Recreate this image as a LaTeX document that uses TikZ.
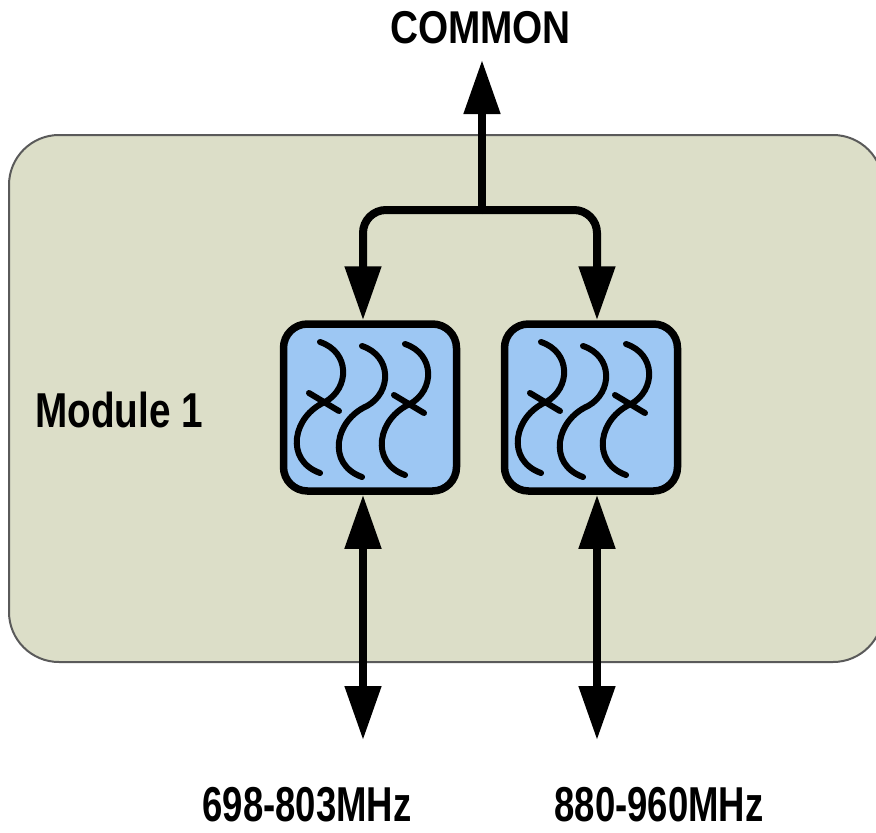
\documentclass[tikz,border=0pt]{standalone}
\usepackage{fontspec}
\setmainfont{Liberation Sans}
\usetikzlibrary{arrows.meta}
\definecolor{modfill}{RGB}{220,222,200}
\definecolor{modline}{RGB}{90,90,90}
\definecolor{filtfill}{RGB}{157,199,243}
\begin{document}
\begin{tikzpicture}[x=1pt,y=-1pt,
  modbox/.style={draw=modline, line width=2pt, fill=modfill, rounded corners=50pt},
  filterbox/.style={draw=black, line width=7.5pt, fill=filtfill, rounded corners=24pt,
    minimum width=173pt, minimum height=167pt, inner sep=0pt},
  bigtip/.tip={Triangle[width=35pt,length=54pt]},
  conn/.style={line width=8pt, draw=black},
  resline/.style={line width=6pt, line cap=round, draw=black},
  txt/.style={inner sep=0pt, font=\bfseries},
  scurve/.pic={
    \draw[resline] (0,0) .. controls (30,10) and (30,46) .. (5,60)
      .. controls (-27,74) and (-36,118) .. (0,131);},
  crossbar/.pic={\draw[resline] (-11,51) -- (19,69);}
]
\useasboundingbox (0,0) rectangle (876,833);
% module
\draw[modbox] (9,135) rectangle (883,662);
\node[txt, anchor=base west] (mod) at (35,427)
  {\fontsize{49}{49}\selectfont\scalebox{0.79}[1]{Module 1}};
% filters
\node[filterbox] (f1) at (370,407.5) {};
\node[filterbox] (f2) at (591,407.5) {};
\foreach \dx/\f in {0/f1,221/f2}{
  \pic at (320+\dx,342) {scurve};
  \pic at (320+\dx,342) {crossbar};
  \pic at (362+\dx,346) {scurve};
  \pic at (405+\dx,344) {scurve};
  \pic at (405+\dx,344) {crossbar};
}
% coordinates of connector columns
\coordinate (j) at (482,210);
\coordinate (c1) at (363,0);
\coordinate (c2) at (597,0);
\coordinate (top) at (482,60);
\coordinate (b1) at (363,740);
\coordinate (b2) at (597,740);
% common
\node[txt, anchor=base] (common) at (480.5,43)
  {\fontsize{46}{46}\selectfont\scalebox{0.843}[1]{COMMON}};
\draw[conn, -bigtip] (j) -- (top);
\draw[conn, rounded corners=23pt, -bigtip] (j) -| (f1.north -| c1);
\draw[conn, rounded corners=23pt, -bigtip] (j) -| (f2.north -| c2);
% outputs
\draw[conn, bigtip-bigtip] (f1.south -| c1) -- (b1);
\draw[conn, bigtip-bigtip] (f2.south -| c2) -- (b2);
\node[txt, anchor=base] (l1) at (307,821)
  {\fontsize{49}{50}\selectfont\scalebox{0.745}[1]{698-803MHz}};
\node[txt, anchor=base] (l2) at (659,821)
  {\fontsize{49}{50}\selectfont\scalebox{0.745}[1]{880-960MHz}};
\end{tikzpicture}
\end{document}
